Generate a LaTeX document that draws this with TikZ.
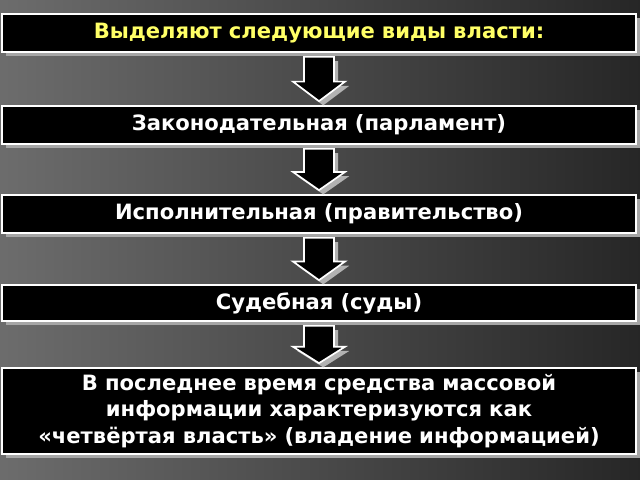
\documentclass[tikz,border=0pt]{standalone}
\usepackage{fontspec}
\setmainfont{DejaVu Sans}
\usetikzlibrary{shadows,calc}
\definecolor{ylw}{RGB}{255,255,102}
\tikzset{
  box/.style={draw=white,line width=1.2pt,fill=black,minimum width=15.85cm,
    text width=15.6cm,align=center,font=\bfseries\fontsize{15}{19}\selectfont,
    text=white,drop shadow={shadow xshift=3pt,shadow yshift=-3pt,fill=gray!70,opacity=1}},
  arrowdown/.style={draw=white,line width=1.2pt,fill=black,
    drop shadow={shadow xshift=3pt,shadow yshift=-3pt,fill=gray!60,opacity=1}}
}
\newcommand{\blockarrow}[2]{% block arrow from box #1 to box #2
  \path[arrowdown] ($(#1.south)+(-15,4)$) -- ($(#1.south)+(15,4)$)
    -- ($(#1.south)!0.55!(#2.north)+(15,0)$) -- ($(#1.south)!0.55!(#2.north)+(26,0)$)
    -- ($(#2.north)+(0,-4)$) -- ($(#1.south)!0.55!(#2.north)+(-26,0)$)
    -- ($(#1.south)!0.55!(#2.north)+(-15,0)$) -- cycle;}
\begin{document}
\begin{tikzpicture}[x=0.025cm,y=-0.025cm]
  \shade[left color=gray!85!black,right color=black!85] (0,0) rectangle (640,480);
  \useasboundingbox (0,0) rectangle (640,480);
  \node[box,minimum height=0.95cm,text=ylw] (kinds) at (319,33) {Выделяют следующие виды власти:};
  \node[box,minimum height=0.95cm] (leg) at (319,125) {Законодательная (парламент)};
  \node[box,minimum height=0.95cm] (exe) at (319,214) {Исполнительная (правительство)};
  \node[box,minimum height=0.9cm] (jud) at (319,303) {Судебная (суды)};
  \node[box,minimum height=2.15cm] (media) at (319,411)
    {В последнее время средства массовой информации характеризуются как «четвёртая власть» (владение информацией)};
  % arrows between the boxes
  \begin{scope}[xshift=6]
    \blockarrow{kinds}{leg}
    \blockarrow{leg}{exe}
    \blockarrow{exe}{jud}
    \blockarrow{jud}{media}
  \end{scope}
\end{tikzpicture}
\end{document}
